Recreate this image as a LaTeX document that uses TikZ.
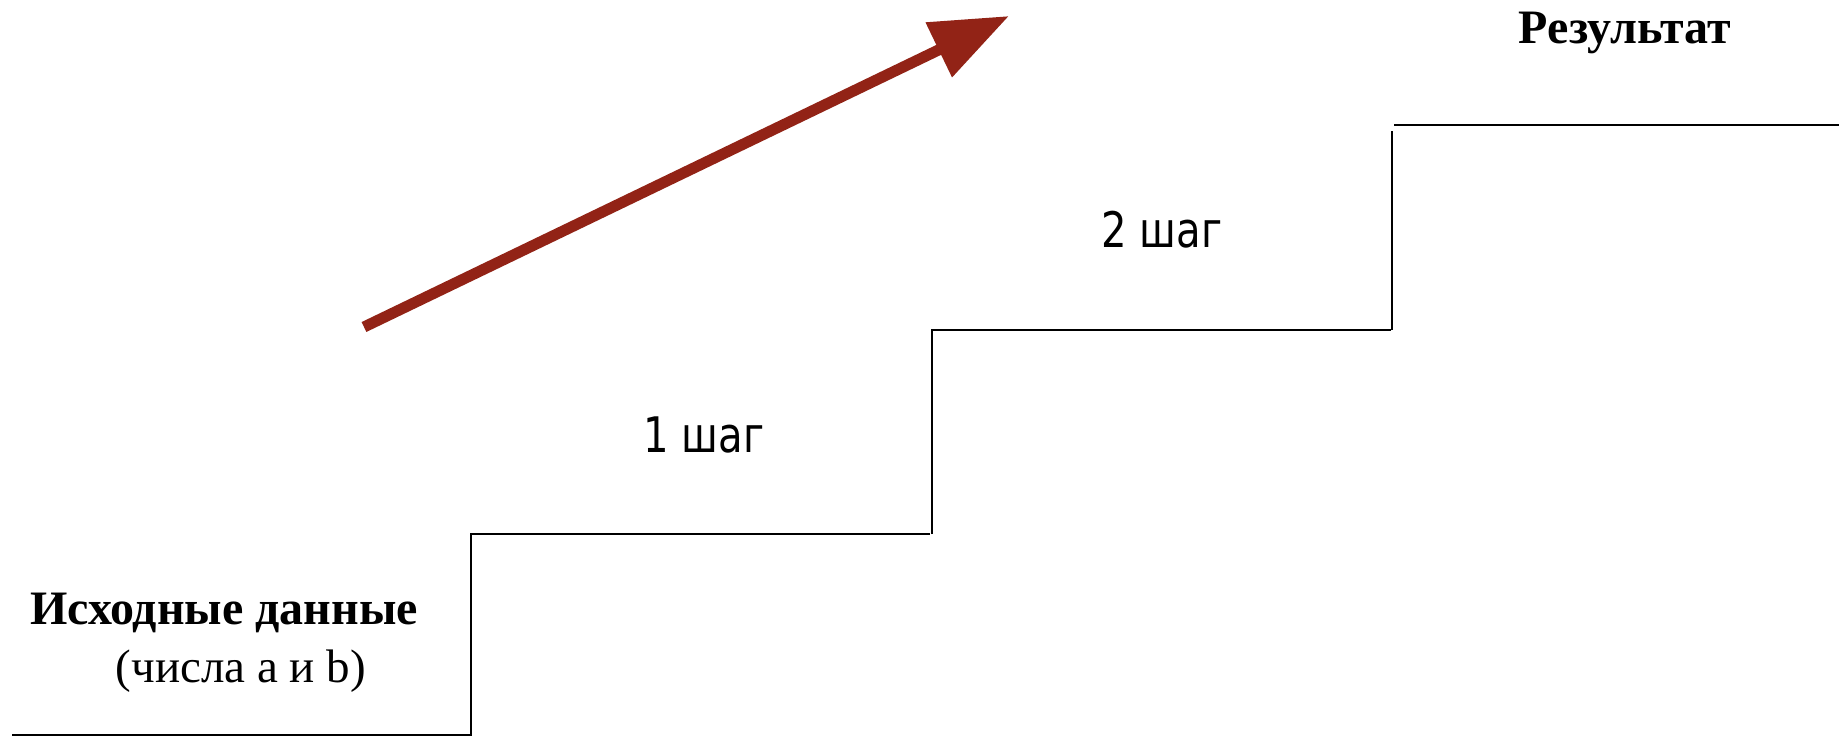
\documentclass[tikz,border=0pt]{standalone}
\usepackage{fontspec}
\setmainfont{Liberation Serif}
\newfontfamily\stepfont{DejaVu Sans}
\usetikzlibrary{arrows.meta}
\definecolor{arrowred}{RGB}{146,35,22}
\begin{document}
\begin{tikzpicture}[x=1pt,y=-1pt,
  stair/.style={line width=2.5pt, draw=black},
  bigarrow/.style={draw=arrowred, line width=11pt, -{Triangle[length=78pt,width=58pt]}},
  boldlabel/.style={font=\fontsize{48}{57}\selectfont\bfseries, inner sep=0pt, anchor=base},
  plainlabel/.style={font=\fontsize{47}{56}\selectfont, inner sep=0pt, anchor=base},
  steplabel/.style={font=\stepfont\fontsize{49}{59}\selectfont, xscale=0.82, inner sep=0pt, anchor=base}]
\useasboundingbox (0,0) rectangle (1839,737);
\fill[white] (0,0) rectangle (1839,737);

% stairs
\draw[stair] (12,735) -- (471,735) -- (471,534) -- (930,534);
\draw[stair] (932,534) -- (932,330) -- (1391,330);
\draw[stair] (1392,330) -- (1392,131);
\draw[stair] (1394,125) -- (1839,125);

% arrow
\coordinate (astart) at (364,327);
\coordinate (aend) at (1009,16);
\draw[bigarrow] (astart) -- (aend);

% labels
\node[boldlabel] (src) at (224,624) {Исходные данные};
\node[plainlabel] (srcnum) at (241,682) {(числа a и b)};
\node[steplabel] (s1) at (704,452) {1 шаг};
\node[steplabel] (s2) at (1162,247) {2 шаг};
\node[boldlabel] (res) at (1625,43) {Результат};
\end{tikzpicture}
\end{document}
